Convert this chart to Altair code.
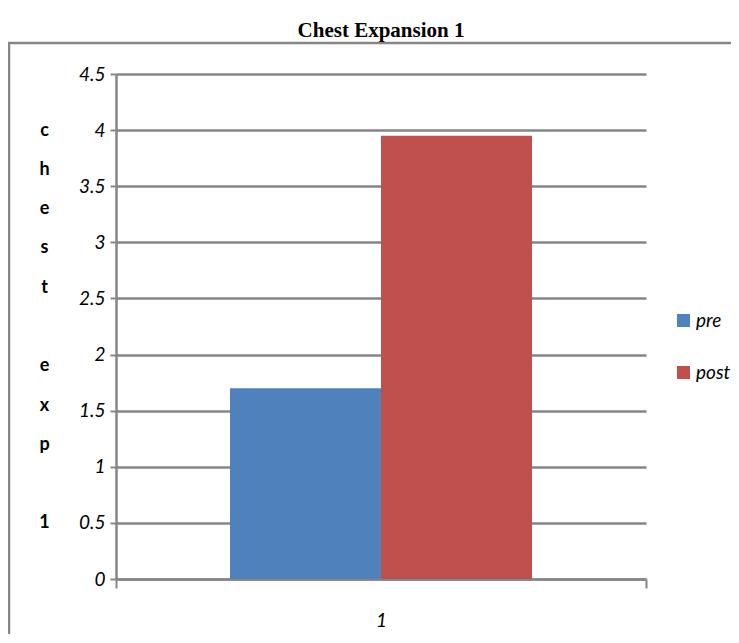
import altair as alt
import pandas as pd

# Data
categories = ["1", "1"]
series = ["pre", "post"]
values = [1.70, 3.95]
y_ticks = [0, 0.5, 1, 1.5, 2, 2.5, 3, 3.5, 4, 4.5]
colors = ["#4F81BD", "#C0504D"]
y_title_lines = ["c", "h", "e", "s", "t", "\u2800", "e", "x", "p", "\u2800", "1"]

df = pd.DataFrame({"cat": categories, "series": series, "value": values})

GRAY = "#868686"
LABEL_FONT = "Lato"

frame = alt.Chart(alt.Data(values=[{}])).mark_rect(
    fill="transparent", stroke=GRAY, strokeWidth=2.5
).encode(
    x=alt.value(-107), x2=alt.value(1000), y=alt.value(-31), y2=alt.value(1000)
)

bars = alt.Chart(df).mark_bar().encode(
    x=alt.X(
        "cat:N",
        title=None,
        scale=alt.Scale(paddingInner=0, paddingOuter=0),
        axis=alt.Axis(
            labelAngle=0,
            tickBand="extent",
            tickSize=9,
            tickColor=GRAY,
            tickWidth=2,
            domainColor=GRAY,
            domainWidth=2.5,
            labelFont=LABEL_FONT,
            labelFontStyle="italic",
            labelFontSize=19,
            labelColor="black",
            labelPadding=23,
            grid=False,
        ),
    ),
    xOffset=alt.XOffset(
        "series:N", sort=series,
        scale=alt.Scale(paddingOuter=0.755, paddingInner=0),
    ),
    y=alt.Y(
        "value:Q",
        scale=alt.Scale(domain=[0, 4.5], nice=False),
        axis=alt.Axis(
            values=y_ticks,
            format="~g",
            title=y_title_lines,
            titleAngle=0,
            titleFont=LABEL_FONT,
            titleFontWeight="bold",
            titleFontSize=18,
            titleColor="black",
            titleLineHeight=39.3,
            titleAlign="center",
            titleBaseline="middle",
            titleX=-72,
            titleY=56,
            labelFont=LABEL_FONT,
            labelFontStyle="italic",
            labelFontSize=19,
            labelColor="black",
            labelPadding=5,
            tickSize=6,
            tickColor=GRAY,
            tickWidth=2,
            domainColor=GRAY,
            domainWidth=2.5,
            grid=True,
            gridColor=GRAY,
            gridWidth=2.5,
        ),
    ),
    color=alt.Color(
        "series:N",
        sort=series,
        scale=alt.Scale(domain=series, range=colors),
        legend=alt.Legend(
            orient="none",
            legendX=558,
            legendY=237,
            title=None,
            symbolType="square",
            symbolSize=170,
            symbolOpacity=1,
            symbolStrokeWidth=0,
            labelFont=LABEL_FONT,
            labelFontStyle="italic",
            labelFontSize=19,
            labelColor="black",
            labelOffset=3,
            rowPadding=32,
        ),
    ),
)

chart = alt.layer(frame, bars).properties(
    width=530,
    height=505,
    autosize=alt.AutoSizeParams(type="none"),
    padding={"left": 108, "top": 66, "right": 85, "bottom": 55},
    title=alt.Title(
        "Chest Expansion 1",
        font="Liberation Serif",
        fontSize=21,
        fontWeight="bold",
        color="black",
        anchor="middle",
        baseline="alphabetic",
        offset=0,
        dy=16,
    ),
).configure_view(stroke=None)

chart.save("out.html", embed_options={"renderer": "svg", "actions": False})
